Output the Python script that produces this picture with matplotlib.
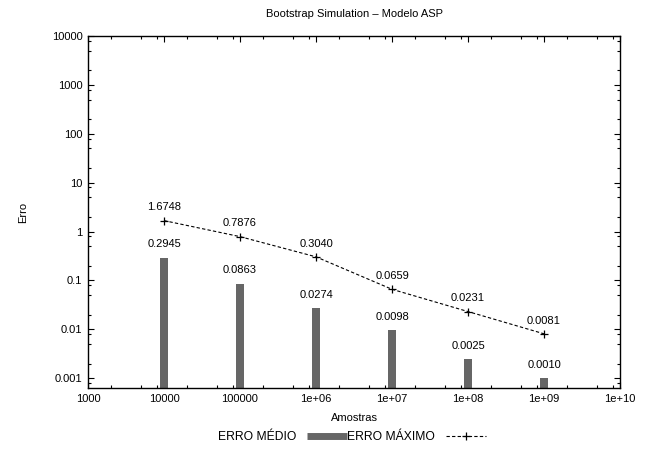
import matplotlib
matplotlib.use("Agg")
import matplotlib.pyplot as plt
from matplotlib.ticker import FixedLocator, FixedFormatter, NullFormatter
from matplotlib.lines import Line2D
import numpy as np

# Number of bootstrap samples
amostras = [1e4, 1e5, 1e6, 1e7, 1e8, 1e9]
# Mean error (bars) and maximum error (dashed line)
erro_medio = [0.2945, 0.0863, 0.0274, 0.0098, 0.0025, 0.0010]
erro_maximo = [1.6748, 0.7876, 0.3040, 0.0659, 0.0231, 0.0081]

x_ticks = [1e3, 1e4, 1e5, 1e6, 1e7, 1e8, 1e9, 1e10]
x_tick_labels = ["1000", "10000", "100000", "1e+06", "1e+07", "1e+08", "1e+09", "1e+10"]
y_ticks = [1e-3, 1e-2, 1e-1, 1, 10, 100, 1000, 10000]
y_tick_labels = ["0.001", "0.01", "0.1", "1", "10", "100", "1000", "10000"]

plt.rcParams["font.family"] = ["Liberation Sans", "DejaVu Sans"]
plt.rcParams["font.size"] = 8

fig = plt.figure(figsize=(6.47, 4.49), dpi=100)
ax = fig.add_axes([88 / 647, 1 - 388 / 449, 532 / 647, 352 / 449])

ax.set_xscale("log")
ax.set_yscale("log")
ax.set_xlim(1e3, 1e10)
ax.set_ylim(10 ** -3.2, 1e4)

# boxes of constant width on the log axis
half = 10 ** 0.052
x = np.array(amostras)
lefts = x / half
widths = x * half - lefts
bar_color = "#666666"
ax.bar(lefts, erro_medio, width=widths, align="edge", bottom=1e-5,
       color=bar_color, linewidth=0, zorder=2)

ax.plot(amostras, erro_maximo, color="black", linestyle=(0, (3, 2)),
        linewidth=0.8, marker="+", markersize=6, markeredgewidth=0.9, zorder=3)

for xv, yv in zip(amostras, erro_medio):
    ax.annotate(f"{yv:.4f}", (xv, yv), xytext=(0, 9.5), textcoords="offset points",
                ha="center", va="center", fontsize=8)
for xv, yv in zip(amostras, erro_maximo):
    ax.annotate(f"{yv:.4f}", (xv, yv), xytext=(0, 9.5), textcoords="offset points",
                ha="center", va="center", fontsize=8)

ax.xaxis.set_major_locator(FixedLocator(x_ticks))
ax.xaxis.set_major_formatter(FixedFormatter(x_tick_labels))
ax.yaxis.set_major_locator(FixedLocator(y_ticks))
ax.yaxis.set_major_formatter(FixedFormatter(y_tick_labels))
subs = [2, 5, 8]
ax.xaxis.set_minor_locator(FixedLocator([d * s for d in x_ticks[:-1] for s in subs]))
ax.yaxis.set_minor_locator(FixedLocator([d * s for d in [1e-4] + y_ticks[:-1] for s in subs]))
ax.xaxis.set_minor_formatter(NullFormatter())
ax.yaxis.set_minor_formatter(NullFormatter())
ax.tick_params(which="both", direction="in", top=True, right=True, width=0.8, pad=4)
ax.tick_params(which="major", length=4.5)
ax.tick_params(which="minor", length=2.5)
for s in ax.spines.values():
    s.set_linewidth(1.0)

ax.set_title("Bootstrap Simulation \u2013 Modelo ASP", fontsize=8, pad=14)
ax.set_xlabel("Amostras", fontsize=8, labelpad=7)
ax.set_ylabel("Erro", fontsize=8, labelpad=17)

handles = [
    Line2D([], [], color=bar_color, linewidth=5, solid_capstyle="butt"),
    Line2D([], [], color="black", linestyle=(0, (3, 2)), linewidth=0.8,
           marker="+", markersize=6, markeredgewidth=0.9),
]
fig.legend(handles, ["ERRO M\u00c9DIO", "ERRO M\u00c1XIMO"], loc="center",
           bbox_to_anchor=(352 / 647, 1 - 437 / 449), ncol=2, frameon=False,
           markerfirst=False, handlelength=3.3, handletextpad=0.9,
           columnspacing=0.0, numpoints=1, fontsize=8.7)

fig.savefig("out.png", dpi=100)
